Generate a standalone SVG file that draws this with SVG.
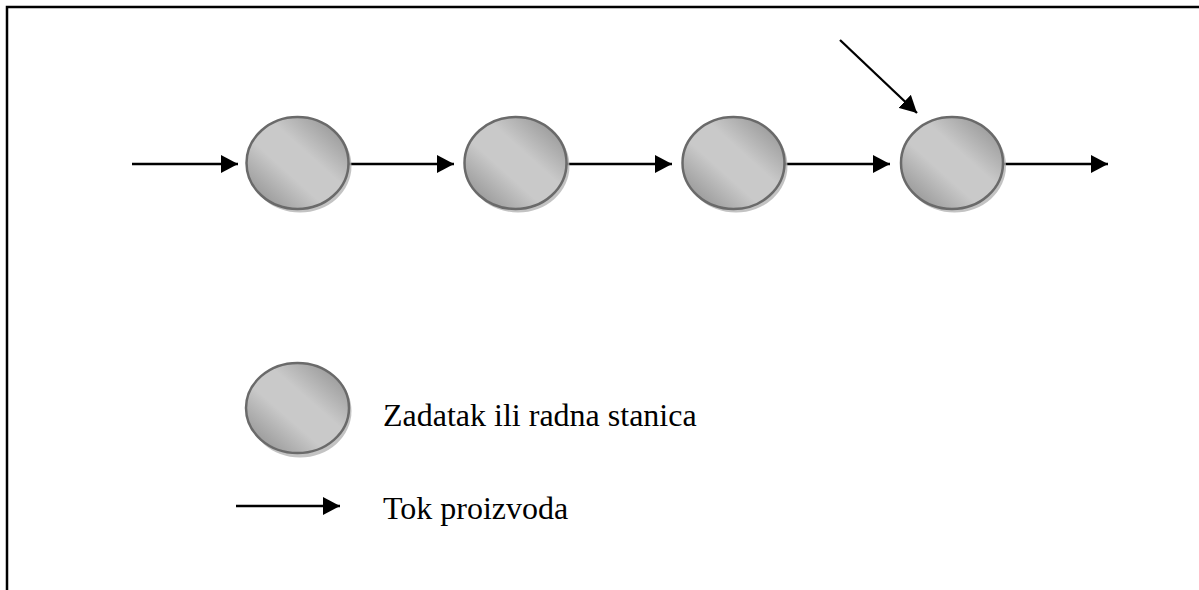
<svg xmlns="http://www.w3.org/2000/svg" width="1199" height="590" viewBox="0 0 1199 590">
<style>
.node{fill:url(#g);stroke:#6a6a6a;stroke-width:2.5}
.shadow{fill:#b4b4b4;opacity:0.8}
.conn{stroke:#000;stroke-width:2.3;fill:none;marker-end:url(#ah)}
.lbl{font-family:"Liberation Serif",serif;font-size:32px;fill:#000}
</style>
<defs>
<linearGradient id="g" x1="1" y1="0" x2="0" y2="1">
<stop offset="0" stop-color="#888"/>
<stop offset="0.4" stop-color="#c9c9c9"/>
<stop offset="0.6" stop-color="#c9c9c9"/>
<stop offset="1" stop-color="#858585"/>
</linearGradient>
<marker id="ah" markerWidth="17" markerHeight="18" viewBox="0 0 17 18" refX="17" refY="9" orient="auto" markerUnits="userSpaceOnUse">
<path d="M0,0 L17,9 L0,18 Z" fill="#000"/>
</marker>
</defs>
<rect width="1199" height="590" fill="#fff"/>
<path d="M7,590 V7 H1199" fill="none" stroke="#000" stroke-width="2.5"/>
<g id="connectors">
<line class="conn" x1="132" y1="164" x2="238" y2="164"/>
<line class="conn" x1="349" y1="164" x2="454" y2="164"/>
<line class="conn" x1="567" y1="164" x2="672" y2="164"/>
<line class="conn" x1="785" y1="164" x2="890" y2="164"/>
<line class="conn" x1="1003" y1="164" x2="1108" y2="164"/>
<line class="conn" x1="840" y1="40" x2="917" y2="113"/>
</g>
<g id="n1"><ellipse class="shadow" cx="300" cy="166" rx="51.5" ry="46.5"/><ellipse class="node" cx="297.5" cy="163" rx="51" ry="46"/></g>
<g id="n2"><ellipse class="shadow" cx="518" cy="166" rx="51.5" ry="46.5"/><ellipse class="node" cx="515.5" cy="163" rx="51" ry="46"/></g>
<g id="n3"><ellipse class="shadow" cx="736" cy="166" rx="51.5" ry="46.5"/><ellipse class="node" cx="733.5" cy="163" rx="51" ry="46"/></g>
<g id="n4"><ellipse class="shadow" cx="954.5" cy="166" rx="51.5" ry="46.5"/><ellipse class="node" cx="952" cy="163" rx="51" ry="46"/></g>
<g id="legend">
<ellipse class="shadow" cx="300" cy="411" rx="51.5" ry="46.5"/>
<ellipse class="node" cx="297.5" cy="408" rx="51.5" ry="45"/>
<text class="lbl" x="383" y="426">Zadatak ili radna stanica</text>
<line class="conn" x1="236" y1="506" x2="340" y2="506"/>
<text class="lbl" x="383" y="519">Tok proizvoda</text>
</g>
</svg>
